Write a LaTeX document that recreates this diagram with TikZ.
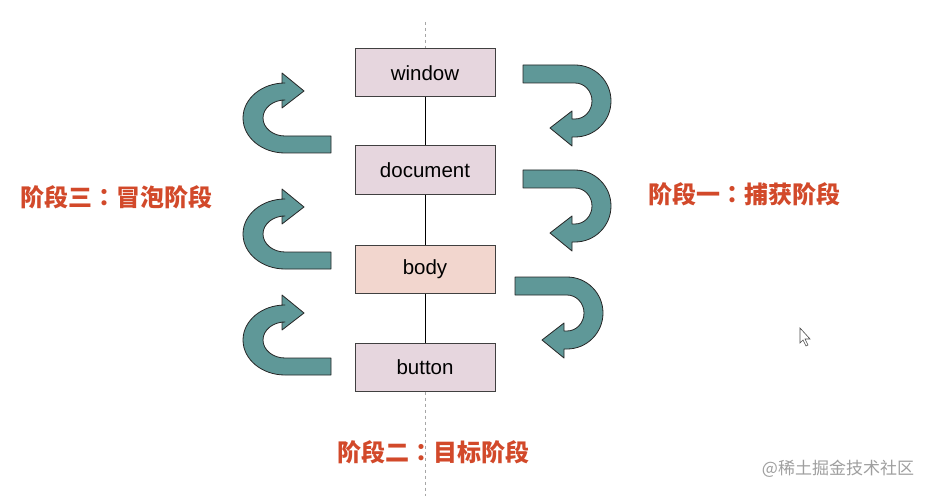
\documentclass[tikz,border=0pt]{standalone}
\usepackage{fontspec}
\setmainfont{Liberation Sans}
\newfontfamily\cjk{Noto Sans CJK SC}
\newfontfamily\cjktc{Noto Sans CJK TC}
\usepackage{xcolor}
\usepackage{tikz}
\usetikzlibrary{arrows.meta,positioning}

\definecolor{boxpink}{HTML}{E6D6DE}
\definecolor{bodypink}{HTML}{F2D6CE}
\definecolor{arrowteal}{HTML}{5F9898}
\definecolor{stagered}{HTML}{D2492A}

\newcommand{\midcolon}{{\cjktc\bfseries ：}}

\tikzset{
  elem/.style={draw=black!75, line width=1pt, fill=boxpink, minimum width=140pt,
    minimum height=48pt, font=\fontsize{20.5}{23}\selectfont},
  stage/.style={text=stagered, font=\cjk\bfseries\fontsize{24}{28}\selectfont},
  uturn/.style={draw=black!85, line width=0.8pt, fill=arrowteal, line join=round},
  % capture side: bar on top, head at the bottom
  pics/downturn/.style={code={
    \draw[uturn] (-52,36) -- (0,36) arc[start angle=90, end angle=-90, radius=36pt]
      -- (-3,-36) -- (-3,-45) -- (-25,-27) -- (-3,-10) -- (-3,-18) -- (0,-18)
      arc[start angle=-90, end angle=90, x radius=17pt, y radius=18pt] -- (-52,18) -- cycle;
  }},
  % bubble side: bar at the bottom, head on top
  pics/upturn/.style={code={
    \draw[uturn] (46,-35) -- (0,-35) arc[start angle=270, end angle=90, x radius=42pt, y radius=35pt]
      -- (-3,35) -- (-3,45) -- (19,27) -- (-3,10) -- (-3,18) -- (0,18)
      arc[start angle=90, end angle=270, x radius=22pt, y radius=18pt] -- (46,-18) -- cycle;
  }},
}

\begin{document}
\begin{tikzpicture}[x=1pt, y=1pt]
  \useasboundingbox[fill=white] (0,0) rectangle (933,496);

  % DOM elements
  \node[elem] (win) at (425,423) {window};
  \node[elem] (doc) at (425,326) {document};
  \node[elem, fill=bodypink] (body) at (425,227) {body};
  \node[elem] (btn) at (425,129) {button};

  \coordinate (top) at (425,474);
  \coordinate (bot) at (425,0);
  \draw[dashed, gray!70, line width=1pt] (top) -- (win.north);
  \draw[dashed, gray!70, line width=1pt] (btn.south) -- (bot);
  \draw[line width=1pt] (win) -- (doc);
  \draw[line width=1pt] (doc) -- (body);
  \draw[line width=1pt] (body) -- (btn);

  % capture arrows
  \pic at (575,395) {downturn};
  \pic at (575,290) {downturn};
  \pic at (567,183) {downturn};

  % bubble arrows
  \pic at (285,378) {upturn};
  \pic at (285,262) {upturn};
  \pic at (285,156) {upturn};

  \node[stage] (bubble) at (116,299) {阶段三\midcolon 冒泡阶段};
  \node[stage] (capture) at (744,302) {阶段一\midcolon 捕获阶段};
  \node[stage] (target) at (433,44) {阶段二\midcolon 目标阶段};

  \node[text=gray!75, font=\cjk\fontsize{17}{20}\selectfont] (mark) at (838,27) {@稀土掘金技术社区};
  \draw[black!70, fill=white, line width=0.6pt] (800,168) -- (800,153) -- (803,156)
    -- (806,150) -- (808,151) -- (805,157) -- (810,157) -- cycle;
\end{tikzpicture}
\end{document}
